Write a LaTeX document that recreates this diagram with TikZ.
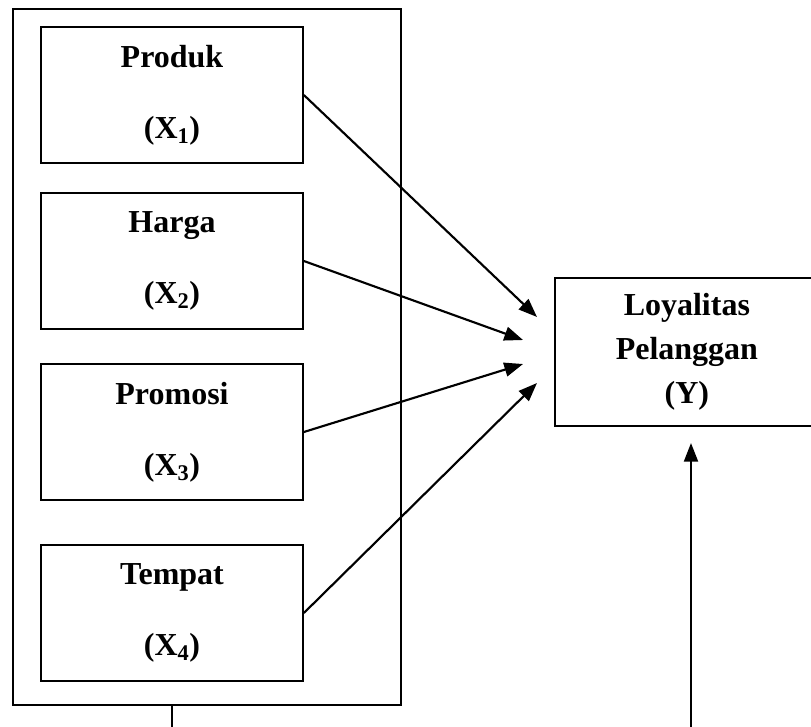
\documentclass[tikz,border=0pt]{standalone}
\usepackage{fontspec}
\setmainfont{Liberation Serif}
\usetikzlibrary{arrows.meta,positioning}

\begin{document}
\begin{tikzpicture}[x=0.75pt,y=-0.75pt,
      var/.style={draw,line width=1.3pt,minimum width=196.5pt,minimum height=102pt,
                  align=center,font=\fontsize{24}{29}\selectfont\bfseries},
      a/.style={-{Triangle[length=14pt,width=10.5pt]},line width=1.6pt}]
      \useasboundingbox (0,0) rectangle (811,726);
      \node[draw,line width=1.5pt,minimum width=291.5pt,minimum height=522pt] (grp) at (207,357) {};
      \foreach \i/\y/\lbl in {1/95/Produk,2/261/Harga,3/432/Promosi,4/613/Tempat} {
        \node[var] (p\i) at (172,\y) {\lbl\\[24pt](X\textsubscript{\i})};
      }
      \node[var,minimum width=198pt,minimum height=111pt,anchor=west] (ly) at (554,352)
        {Loyalitas\\[4pt]Pelanggan\\[4pt](Y)};
      \coordinate (t1) at (537,317); \coordinate (t2) at (523,340);
      \coordinate (t3) at (523,364); \coordinate (t4) at (537,383);
      \foreach \i in {1,...,4} { \draw[a] (p\i.east) -- (t\i); }
      \coordinate (b1) at (172,740); \coordinate (b2) at (691,740);
      \coordinate (t5) at (691,443);
      \draw[line width=1.5pt] (grp.south -| p4.south) -- (b1);
      \draw[a] (b2) -- (t5);
    \end{tikzpicture}
\end{document}
